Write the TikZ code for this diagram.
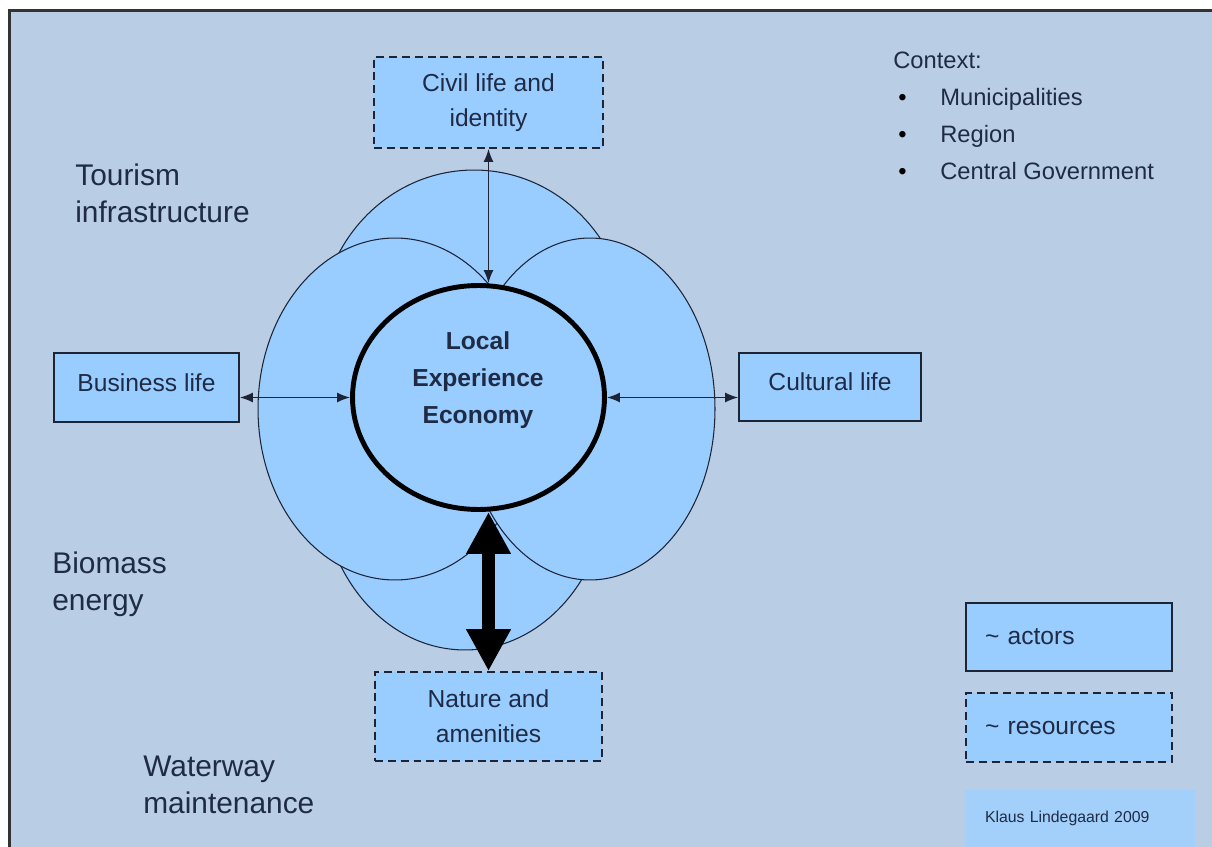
\documentclass[tikz,border=0pt]{standalone}
\usepackage{fontspec}
\setmainfont{Liberation Sans}
\usetikzlibrary{shapes.geometric, positioning, arrows.meta}

\definecolor{pagebg}{HTML}{B9CDE5}
\definecolor{boxfill}{HTML}{99CCFF}
\definecolor{notefill}{HTML}{A3D0FB}
\definecolor{ink}{HTML}{1C2436}
\definecolor{txt}{HTML}{1F2B45}

\tikzset{
  actorbox/.style={draw=ink, line width=1pt, fill=boxfill, text=txt, align=center,
    inner sep=0pt, font=\fontsize{14}{19.9}\selectfont},
  resourcebox/.style={actorbox, dash pattern=on 4.5pt off 2.8pt},
  lobe/.style={draw=ink, line width=0.6pt, fill=boxfill},
  linkarrow/.style={draw=ink, line width=0.8pt,
    {Latex[length=0.26cm,width=0.2cm]}-{Latex[length=0.26cm,width=0.2cm]}},
  bigarrow/.style={draw=black, line width=0.27cm,
    {Triangle[length=0.84cm,width=0.84cm]}-{Triangle[length=0.84cm,width=0.84cm]}},
  sidelabel/.style={text=txt, align=left, inner sep=0pt, anchor=west,
    font=\fontsize{17}{21}\selectfont},
}

\begin{document}
\begin{tikzpicture}[x=0.02cm, y=-0.02cm]
\useasboundingbox (0,0) rectangle (1212,847);
\fill[white] (0,0) rectangle (1212,847);
\fill[pagebg] (9,11) rectangle (1212,847);
\draw[line width=1.7pt, draw=black!80] (9.5,847) -- (9.5,10.5) -- (1212,10.5); % page frame

% lobes round the core
\draw[lobe] (474,330) ellipse [x radius=3.08cm, y radius=3.2cm]; % top
\draw[lobe] (465,480) ellipse [x radius=2.88cm, y radius=3.4cm]; % bottom
\draw[lobe] (395,409) ellipse [x radius=2.74cm, y radius=3.42cm]; % left
\draw[lobe] (590,409) ellipse [x radius=2.5cm, y radius=3.42cm]; % right

\node[ellipse, draw=black, line width=2.8pt, fill=boxfill,
  minimum width=5.04cm, minimum height=4.48cm] (core) at (478.5,397.5) {};
\node[align=center, text=txt, font=\bfseries\fontsize{14}{21}\selectfont]
  (coretitle) at (478,380) {Local\\Experience\\Economy};

% actors and resources
\node[resourcebox, minimum width=4.58cm, minimum height=1.82cm] (civil) at (488.5,102.5) {Civil life and\\identity};
\node[actorbox, minimum width=3.7cm, minimum height=1.38cm, text depth=0.2cm] (business) at (146.5,387.5) {Business life};
\node[actorbox, minimum width=3.64cm, minimum height=1.36cm, text depth=0.2cm] (cultural) at (830,387) {Cultural life};
\node[resourcebox, minimum width=4.54cm, minimum height=1.78cm] (nature) at (488.5,716.5) {Nature and\\amenities};

% links
\draw[linkarrow] (civil.south) -- (civil.south |- core.north);
\draw[linkarrow] (business.east |- core.center) -- (core.west);
\draw[linkarrow] (core.east) -- (cultural.west |- core.center);
\draw[bigarrow] (nature.north |- core.south) -- (nature.north);

% side labels
\node[sidelabel] (tourism) at (75,193.5) {Tourism\\infrastructure};
\node[sidelabel] (biomass) at (52,584) {Biomass\\energy};
\node[sidelabel] (waterway) at (143,785) {Waterway\\maintenance};

\node[anchor=west, align=left, inner sep=0pt, text=txt, font=\fontsize{13.5}{21}\selectfont]
  (context) at (893,115.5) {Context:\\
  \makebox[0.94cm][l]{\hspace{0.1cm}\textcolor{black}{\textbullet}}Municipalities\\
  \makebox[0.94cm][l]{\hspace{0.1cm}\textcolor{black}{\textbullet}}Region\\
  \makebox[0.94cm][l]{\hspace{0.1cm}\textcolor{black}{\textbullet}}Central Government};

% legend
\node[actorbox, minimum width=4.12cm, minimum height=1.36cm, text width=3.36cm, align=left] (actors) at (1069,637) {\textasciitilde\ actors};
\node[resourcebox, minimum width=4.12cm, minimum height=1.38cm, text width=3.36cm, align=left] (resources) at (1069,727.5) {\textasciitilde\ resources};
\node[fill=notefill, text=txt, inner sep=0pt, minimum width=4.6cm, minimum height=1.14cm,
  text width=3.8cm, align=left, font=\fontsize{9}{11}\selectfont] (author) at (1080,818.5) {Klaus Lindegaard 2009};
\end{tikzpicture}
\end{document}
